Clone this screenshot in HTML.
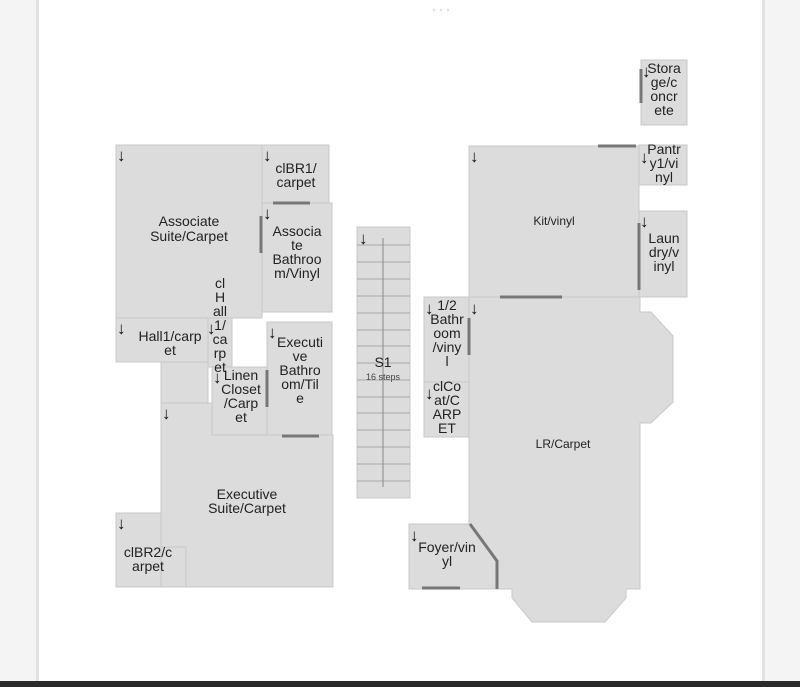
<!DOCTYPE html>
<html><head><meta charset="utf-8"><style>
html,body{margin:0;padding:0;width:800px;height:687px;overflow:hidden;background:#f4f4f4}
svg{display:block}
text{font-family:"Liberation Sans",sans-serif;font-size:14px;fill:#222;text-anchor:middle}
.a{font-size:17px;font-weight:bold;text-anchor:start;fill:#111}
</style></head><body>
<svg width="800" height="687" viewBox="0 0 800 687">
<rect x="0" y="0" width="800" height="687" fill="#f4f4f4"/>
<rect x="36" y="0" width="3" height="681" fill="#e2e2e2"/>
<rect x="762" y="0" width="3" height="681" fill="#e2e2e2"/>
<rect x="39" y="0" width="723" height="681" fill="#fff"/>
<rect x="0" y="681" width="800" height="6" fill="#2a2a2a"/>
<circle cx="434" cy="10" r="1.3" fill="#ddd"/><circle cx="441" cy="10" r="1.3" fill="#ddd"/><circle cx="448" cy="10" r="1.3" fill="#ddd"/>
<g fill="#dcdcdc" stroke="#c9c9c9" stroke-width="1">
<rect x="116" y="145" width="146" height="173"/>
<rect x="262" y="145" width="67" height="58"/>
<rect x="262" y="203" width="70" height="109"/>
<rect x="116" y="318" width="92" height="44"/>
<rect x="161" y="362" width="47" height="41"/>
<rect x="208" y="318" width="24" height="49"/>
<rect x="212" y="367" width="55" height="68"/>
<rect x="267" y="322" width="65" height="113"/>
<path d="M161 403 H212 V435 H333 V587 H161 Z"/>
<rect x="116" y="513" width="45" height="74"/>
<rect x="161" y="547" width="25" height="40"/>
<rect x="641" y="60" width="46" height="65"/>
<rect x="639" y="145" width="48" height="40"/>
<rect x="469" y="146" width="170" height="151"/>
<rect x="639" y="211" width="48" height="86"/>
<path d="M469 297 H640 V312 H651 L673 336 V402 L651 423 H640 V589 H626 V598 L605 622 H532 L512 598 V589 H497 V561 L470 524 H469 Z"/>
<path d="M409 524 H470 L497 561 V589 H409 Z"/>
<rect x="424" y="297" width="45" height="85"/>
<rect x="424" y="382" width="45" height="55"/>
<rect x="357" y="227" width="53" height="271"/>
</g>
<g stroke="#a8a8a8" stroke-width="1">
<line x1="357" y1="245" x2="410" y2="245"/><line x1="357" y1="262" x2="410" y2="262"/>
<line x1="357" y1="279" x2="410" y2="279"/><line x1="357" y1="296" x2="410" y2="296"/>
<line x1="357" y1="313" x2="410" y2="313"/><line x1="357" y1="330" x2="410" y2="330"/>
<line x1="357" y1="346" x2="410" y2="346"/><line x1="357" y1="363" x2="410" y2="363"/>
<line x1="357" y1="380" x2="410" y2="380"/><line x1="357" y1="397" x2="410" y2="397"/>
<line x1="357" y1="413" x2="410" y2="413"/><line x1="357" y1="430" x2="410" y2="430"/>
<line x1="357" y1="447" x2="410" y2="447"/><line x1="357" y1="464" x2="410" y2="464"/>
<line x1="357" y1="481" x2="410" y2="481"/>
<line x1="383" y1="238" x2="383" y2="487" stroke="#888"/>
</g>
<g stroke="#777" stroke-width="3" fill="none">
<line x1="261" y1="216" x2="261" y2="253"/>
<line x1="273" y1="203" x2="310" y2="203"/>
<line x1="267" y1="370" x2="267" y2="407"/>
<line x1="282" y1="436" x2="319" y2="436"/>
<line x1="641" y1="69" x2="641" y2="103"/>
<line x1="598" y1="146" x2="636" y2="146"/>
<line x1="639" y1="223" x2="639" y2="290"/>
<line x1="500" y1="297" x2="562" y2="297"/>
<line x1="469" y1="318" x2="469" y2="355"/>
<line x1="422" y1="588" x2="460" y2="588"/>
<polyline points="470,524 497,561 497,589"/>
</g>
<g>
<text class="a" x="117" y="161">↓</text>
<text class="a" x="263" y="161">↓</text>
<text class="a" x="263" y="219">↓</text>
<text class="a" x="117" y="334">↓</text>
<text class="a" x="207" y="334">↓</text>
<text class="a" x="268" y="338">↓</text>
<text class="a" x="213" y="383">↓</text>
<text class="a" x="162" y="419">↓</text>
<text class="a" x="117" y="529">↓</text>
<text class="a" x="359" y="244">↓</text>
<text class="a" x="470" y="162">↓</text>
<text class="a" x="642" y="77">↓</text>
<text class="a" x="640" y="163">↓</text>
<text class="a" x="640" y="227">↓</text>
<text class="a" x="425" y="314">↓</text>
<text class="a" x="470" y="314">↓</text>
<text class="a" x="425" y="399">↓</text>
<text class="a" x="410" y="541">↓</text>
</g>
<g>
<text x="189" y="226">Associate</text><text x="189" y="241">Suite/Carpet</text>
<text x="296" y="173">clBR1/</text><text x="296" y="187">carpet</text>
<text x="297" y="236">Associa</text><text x="297" y="250">te</text><text x="297" y="264">Bathroo</text><text x="297" y="278">m/Vinyl</text>
<text x="220" y="288">cl</text><text x="220" y="302">H</text><text x="220" y="316">all</text><text x="220" y="330">1/</text><text x="220" y="344">ca</text><text x="220" y="358">rp</text><text x="220" y="372">et</text>
<text x="170" y="341">Hall1/carp</text><text x="170" y="355">et</text>
<text x="300" y="347">Executi</text><text x="300" y="361">ve</text><text x="300" y="375">Bathro</text><text x="300" y="389">om/Til</text><text x="300" y="403">e</text>
<text x="241" y="380">Linen</text><text x="241" y="394">Closet</text><text x="241" y="408">/Carp</text><text x="241" y="422">et</text>
<text x="247" y="499">Executive</text><text x="247" y="513">Suite/Carpet</text>
<text x="148" y="557">clBR2/c</text><text x="148" y="571">arpet</text>
<text x="383" y="367">S1</text>
<text x="383" y="380" style="font-size:9px;fill:#444">16 steps</text>
<text x="664" y="73">Stora</text><text x="664" y="87">ge/c</text><text x="664" y="101">oncr</text><text x="664" y="115">ete</text>
<text x="664" y="154">Pantr</text><text x="664" y="168">y1/vi</text><text x="664" y="182">nyl</text>
<text x="554" y="225" style="font-size:12px">Kit/vinyl</text>
<text x="664" y="243">Laun</text><text x="664" y="257">dry/v</text><text x="664" y="271">inyl</text>
<text x="447" y="310">1/2</text><text x="447" y="324">Bathr</text><text x="447" y="338">oom</text><text x="447" y="352">/viny</text><text x="447" y="366">l</text>
<text x="447" y="391">clCo</text><text x="447" y="405">at/C</text><text x="447" y="419">ARP</text><text x="447" y="433">ET</text>
<text x="563" y="448" style="font-size:12px">LR/Carpet</text>
<text x="447" y="552">Foyer/vin</text><text x="447" y="566">yl</text>
</g>
</svg>
</body></html>
